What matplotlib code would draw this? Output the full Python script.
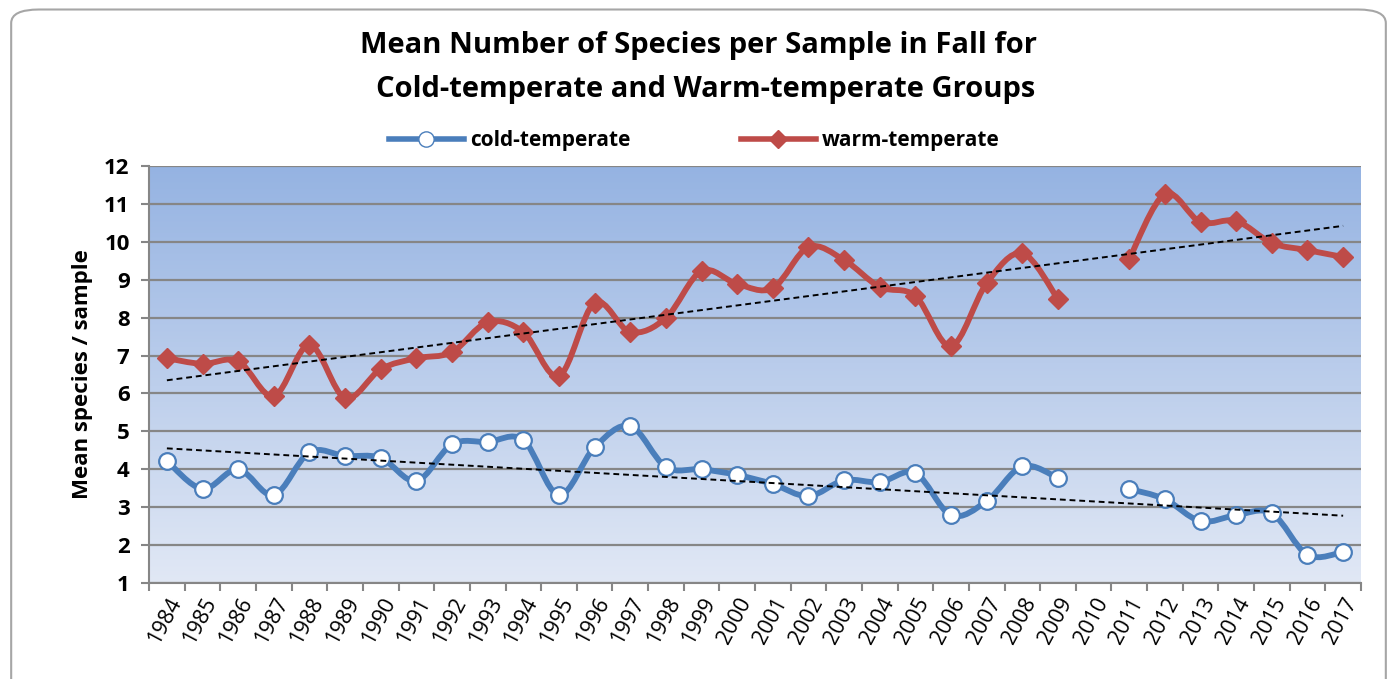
import numpy as np
import matplotlib
matplotlib.use("Agg")
import matplotlib.pyplot as plt
from matplotlib.path import Path
from matplotlib.patches import PathPatch, FancyBboxPatch
from matplotlib.lines import Line2D

plt.rcParams['font.family'] = ['Open Sans', 'DejaVu Sans']

# ---- data ----
years = list(range(1984, 2018))
cold = [4.22, 3.48, 4.0, 3.32, 4.45, 4.35, 4.3, 3.69, 4.66, 4.72, 4.77, 3.32,
        4.58, 5.14, 4.06, 4.0, 3.85, 3.61, 3.29, 3.71, 3.66, 3.9, 2.79, 3.16,
        4.08, 3.77, np.nan, 3.48, 3.21, 2.63, 2.79, 2.84, 1.74, 1.82]
warm = [6.93, 6.78, 6.85, 5.93, 7.28, 5.88, 6.64, 6.93, 7.09, 7.88, 7.62, 6.46,
        8.39, 7.62, 7.99, 9.23, 8.89, 8.78, 9.86, 9.52, 8.81, 8.57, 7.25, 8.91,
        9.70, 8.49, np.nan, 9.55, 11.26, 10.52, 10.55, 9.97, 9.78, 9.60]

blue = '#4a7ebb'
red = '#be4b48'


def smooth_path(x, y):
    # excel-style smoothed line: catmull-rom segments drawn as cubic beziers
    x = np.asarray(x, float)
    y = np.asarray(y, float)
    verts, codes = [], []
    ok = ~np.isnan(y)
    i = 0
    n = len(y)
    while i < n:
        if not ok[i]:
            i += 1
            continue
        j = i
        while j < n and ok[j]:
            j += 1
        P = np.column_stack([x[i:j], y[i:j]])
        verts.append(P[0]); codes.append(Path.MOVETO)
        for k in range(len(P) - 1):
            p0 = P[k - 1] if k > 0 else P[k]
            p1, p2 = P[k], P[k + 1]
            p3 = P[k + 2] if k + 2 < len(P) else P[k + 1]
            c1 = p1 + (p2 - p0) / 6.0
            c2 = p2 - (p3 - p1) / 6.0
            verts += [c1, c2, p2]
            codes += [Path.CURVE4] * 3
        i = j
    return Path(verts, codes)


fig = plt.figure(figsize=(13.97, 6.79), dpi=100)
ax = fig.add_axes([0.1067, 0.1414, 0.8675, 0.6141])

xs = np.arange(len(years))

# gradient background
grad = np.linspace(0, 1, 256).reshape(-1, 1)
cmap = matplotlib.colors.LinearSegmentedColormap.from_list('bg', ['#e1e8f5', '#95b3e2'])
ax.imshow(grad, extent=[-0.5, len(years) - 0.5, 1, 12], origin='lower',
          aspect='auto', cmap=cmap, zorder=0)

ax.set_xlim(-0.5, len(years) - 0.5)
ax.set_ylim(1, 12)
ax.set_yticks(range(1, 13))
ax.yaxis.grid(True, color='#868686', lw=1.6, zorder=1)
ax.set_axisbelow(True)

for vals, col in [(cold, blue), (warm, red)]:
    ax.add_patch(PathPatch(smooth_path(xs, vals), facecolor='none', edgecolor=col,
                           lw=4.2, capstyle='round', joinstyle='round', zorder=3))

ax.plot(xs, cold, ls='none', marker='o', ms=12, mfc='white', mec=blue, mew=1.6, zorder=4)
ax.plot(xs, warm, ls='none', marker='D', ms=10, mfc=red, mec=red, zorder=4)

# linear trend lines
for vals in [cold, warm]:
    v = np.asarray(vals)
    m = ~np.isnan(v)
    coef = np.polyfit(xs[m], v[m], 1)
    ax.plot(xs, np.polyval(coef, xs), ls=(0, (3, 2)), color='black', lw=1.4, zorder=5)

ax.set_xticks(xs)
ax.set_xticklabels([str(y) for y in years], rotation=62, ha='right',
                   rotation_mode='anchor', fontsize=15.5)
ax.set_xticks(np.arange(-0.5, len(years)), minor=True)
ax.tick_params(axis='x', which='major', length=0, pad=8)
ax.tick_params(axis='x', which='minor', length=6, color='#868686', width=1.5)
ax.tick_params(axis='y', length=6, color='#868686', width=1.5, labelsize=16, pad=8)
for lab in ax.get_yticklabels():
    lab.set_fontweight('bold')

for s in ['top', 'right']:
    ax.spines[s].set_visible(False)
for s in ['left', 'bottom']:
    ax.spines[s].set_color('#868686')
    ax.spines[s].set_linewidth(1.5)

ax.set_ylabel('Mean species / sample', fontsize=16, fontweight='bold', labelpad=8)

fig.text(0.5, 0.933, 'Mean Number of Species per Sample in Fall for',
         ha='center', va='center', fontsize=21, fontweight='bold')
fig.text(0.505, 0.868, 'Cold-temperate and Warm-temperate Groups',
         ha='center', va='center', fontsize=21, fontweight='bold')

handles = [Line2D([], [], color=blue, lw=4, marker='o', ms=11, mfc='white', mec=blue),
           Line2D([], [], color=red, lw=4, marker='D', ms=9, mfc=red, mec=red)]
fig.legend(handles, ['cold-temperate', 'warm-temperate'], loc='center',
           bbox_to_anchor=(0.497, 0.793), ncol=2, frameon=False, handlelength=3.6,
           handletextpad=0.3, columnspacing=5.3, prop={'weight': 'bold', 'size': 15})

# rounded outer border
fig.patches.append(FancyBboxPatch((0.008, -0.05), 0.984, 1.036,
                                  boxstyle='round,pad=0,rounding_size=0.02',
                                  transform=fig.transFigure, fill=False,
                                  edgecolor='#a6a6a6', lw=1.5))

fig.savefig('out.png', dpi=100)
